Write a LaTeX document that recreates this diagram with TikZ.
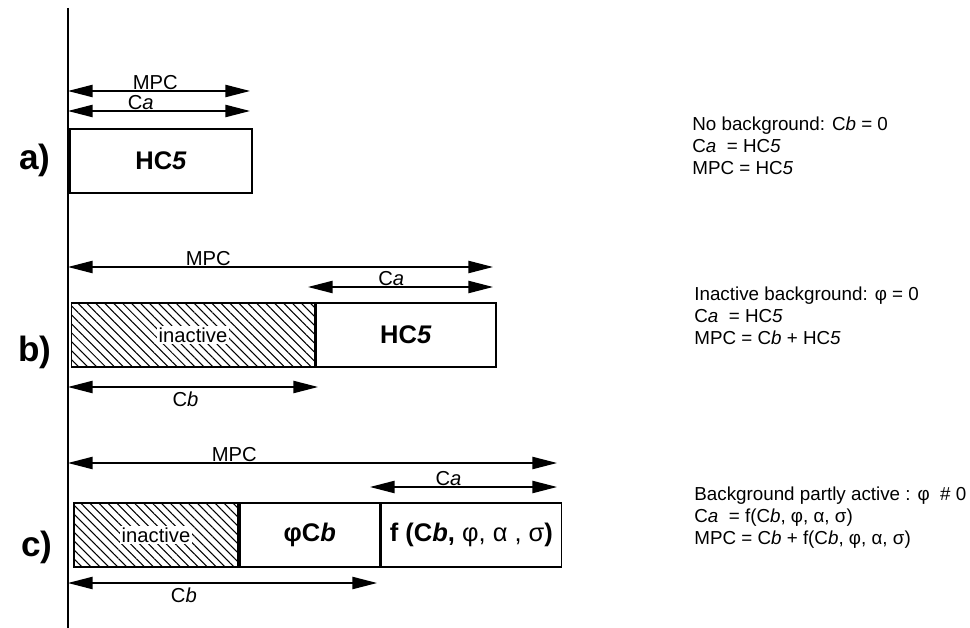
\documentclass[tikz,border=0pt]{standalone}
\usepackage{fontspec}
\setmainfont{Liberation Sans}
\usetikzlibrary{arrows.meta,patterns.meta,positioning}

\tikzset{
  dim/.style={{Triangle[length=14pt,width=7pt]}-{Triangle[length=14pt,width=7pt]},line width=0.7pt},
  blk/.style={draw,line width=1pt,minimum height=1.27cm,inner sep=0pt,font=\fontsize{14.5}{16}\selectfont\bfseries},
  hatch/.style={blk,pattern={Lines[angle=-45,distance=3.6pt,line width=0.6pt]}},
  lbl/.style={font=\fontsize{11.5}{13}\selectfont,inner sep=0.5pt},
  tag/.style={font=\fontsize{20}{22}\selectfont\bfseries},
  note/.style={font=\fontsize{10.7}{12.3}\selectfont,align=left,anchor=north west,inner sep=0pt}
}

\begin{document}
\begin{tikzpicture}[x=0.02cm,y=-0.02cm]
\useasboundingbox (0,0) rectangle (970,628);

% axis
\coordinate (axtop) at (68,8);
\coordinate (axbot) at (68,628);
\draw[line width=1pt] (axtop) -- (axbot);

% a) no background
\node[tag] (tagA) at (35,160) {a)};
\node[blk,minimum width=3.64cm] (hcA) at (161,161) {HC\textit{5}};
\coordinate (mpcA0) at (68,91);  \coordinate (mpcA1) at (250,91);
\coordinate (caA0) at (68,111);  \coordinate (caA1) at (250,111);
\draw[dim] (mpcA0) -- (mpcA1) node[lbl,pos=0.48,above] {MPC};
\draw[dim] (caA0) -- (caA1) node[lbl,pos=0.4,above] {C\textit{a}};

% b) inactive background
\node[tag] (tagB) at (35,352) {b)};
\node[hatch,minimum width=4.86cm] (inB) at (193,335) {};
\node[lbl,fill=white,inner sep=1pt] (inBtxt) at (inB.center) {inactive};
\node[blk,minimum width=3.6cm,right=0pt of inB] (hcB) {HC\textit{5}};
\coordinate (mpcB0) at (68,267); \coordinate (mpcB1) at (493,267);
\coordinate (caB0) at (308,287); \coordinate (caB1) at (493,287);
\coordinate (cbB0) at (68,387);  \coordinate (cbB1) at (318,387);
\draw[dim] (mpcB0) -- (mpcB1) node[lbl,pos=0.33,above] {MPC};
\draw[dim] (caB0) -- (caB1) node[lbl,pos=0.45,above] {C\textit{a}};
\draw[dim] (cbB0) -- (cbB1) node[lbl,pos=0.47,below=2pt] {C\textit{b}};

% c) partly active background
\node[tag] (tagC) at (37,547) {c)};
\node[hatch,minimum width=3.28cm] (inC) at (156,535) {};
\node[lbl,fill=white,inner sep=1pt] (inCtxt) at (inC.center) {inactive};
\node[blk,minimum width=2.8cm,right=0pt of inC] (phiC) {φC\textit{b}};
\node[blk,minimum width=3.6cm,right=0pt of phiC] (fC) {f (C\textit{b},\mdseries\ φ, α , σ\bfseries)};
\coordinate (mpcC0) at (68,463); \coordinate (mpcC1) at (557,463);
\coordinate (caC0) at (370,487); \coordinate (caC1) at (557,487);
\coordinate (cbC0) at (68,583);  \coordinate (cbC1) at (377,583);
\draw[dim] (mpcC0) -- (mpcC1) node[lbl,pos=0.34,above] {MPC};
\draw[dim] (caC0) -- (caC1) node[lbl,pos=0.42,above] {C\textit{a}};
\draw[dim] (cbC0) -- (cbC1) node[lbl,pos=0.375,below=2pt] {C\textit{b}};

% notes
\node[note] (noteA) at (692,117) {No background: C\textit{b} = 0\\C\textit{a}\ \ = HC\textit{5}\\MPC = HC\textit{5}};
\node[note] (noteB) at (694,287) {Inactive background: φ = 0\\C\textit{a}\ \ = HC\textit{5}\\MPC = C\textit{b} + HC\textit{5}};
\node[note] (noteC) at (694,487) {Background partly active : φ\ \ \# 0\\C\textit{a}\ \ = f(C\textit{b}, φ, α, σ)\\MPC = C\textit{b} + f(C\textit{b}, φ, α, σ)};
\end{tikzpicture}
\end{document}
